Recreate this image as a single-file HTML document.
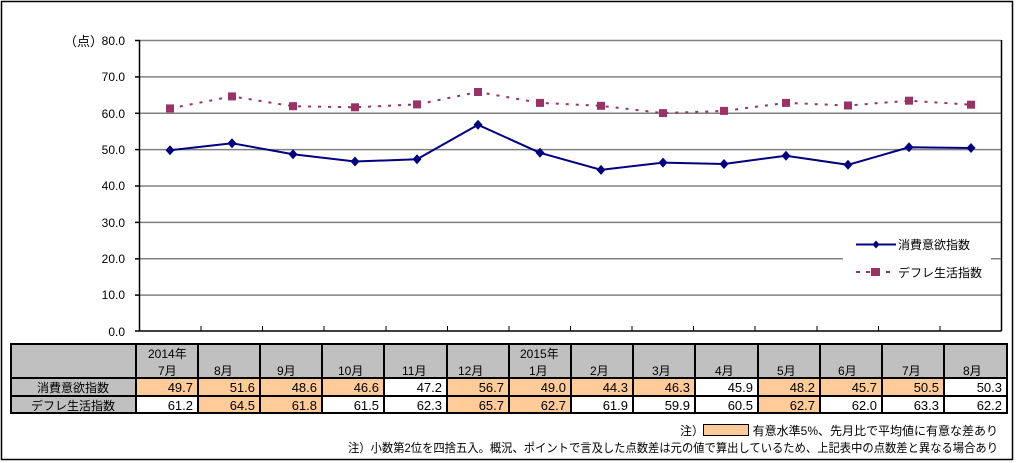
<!DOCTYPE html>
<html><head><meta charset="utf-8"><style>
html,body{margin:0;padding:0;background:#fff}
svg{display:block;font-family:"Liberation Sans","Noto Sans CJK JP",sans-serif}
</style></head><body>
<svg width="1019" height="463" viewBox="0 0 1019 463" xmlns="http://www.w3.org/2000/svg">
<rect x="1.5" y="1.5" width="1011" height="458" fill="#fff" stroke="#000" stroke-width="1.5"/>
<g stroke="#808080" stroke-width="1.5">
<line x1="139" y1="40.5" x2="1001" y2="40.5"/>
<line x1="139" y1="76.9" x2="1001" y2="76.9"/>
<line x1="139" y1="113.3" x2="1001" y2="113.3"/>
<line x1="139" y1="149.6" x2="1001" y2="149.6"/>
<line x1="139" y1="186" x2="1001" y2="186"/>
<line x1="139" y1="222.4" x2="1001" y2="222.4"/>
<line x1="139" y1="258.8" x2="1001" y2="258.8"/>
<line x1="139" y1="295.1" x2="1001" y2="295.1"/>
</g>
<g stroke="#000" stroke-width="1.5" fill="none">
<line x1="139.5" y1="40" x2="139.5" y2="331"/>
<line x1="1001.5" y1="40" x2="1001.5" y2="331"/>
<line x1="135" y1="331" x2="1001.5" y2="331"/>
<line x1="135" y1="40.5" x2="139.5" y2="40.5"/>
<line x1="135" y1="76.9" x2="139.5" y2="76.9"/>
<line x1="135" y1="113.3" x2="139.5" y2="113.3"/>
<line x1="135" y1="149.6" x2="139.5" y2="149.6"/>
<line x1="135" y1="186" x2="139.5" y2="186"/>
<line x1="135" y1="222.4" x2="139.5" y2="222.4"/>
<line x1="135" y1="258.8" x2="139.5" y2="258.8"/>
<line x1="135" y1="295.1" x2="139.5" y2="295.1"/>
</g>
<g stroke="#000" stroke-width="1">
<line x1="201" y1="331" x2="201" y2="326"/><line x1="262.5" y1="331" x2="262.5" y2="326"/><line x1="324" y1="331" x2="324" y2="326"/><line x1="386" y1="331" x2="386" y2="326"/><line x1="447.5" y1="331" x2="447.5" y2="326"/><line x1="509" y1="331" x2="509" y2="326"/><line x1="570.5" y1="331" x2="570.5" y2="326"/><line x1="632" y1="331" x2="632" y2="326"/><line x1="693.5" y1="331" x2="693.5" y2="326"/><line x1="755" y1="331" x2="755" y2="326"/><line x1="817" y1="331" x2="817" y2="326"/><line x1="878.5" y1="331" x2="878.5" y2="326"/><line x1="940" y1="331" x2="940" y2="326"/>
</g>
<g font-size="12" text-anchor="end" fill="#000">
<text x="125" y="45">80.0</text><text x="125" y="81">70.0</text><text x="125" y="118">60.0</text><text x="125" y="154">50.0</text><text x="125" y="190">40.0</text><text x="125" y="227">30.0</text><text x="125" y="263">20.0</text><text x="125" y="299">10.0</text><text x="125" y="336">0.0</text>
</g>
<text x="64" y="46" font-size="13">（点）</text>
<rect x="843" y="228" width="148" height="62" fill="#fff"/>
<polyline fill="none" stroke="#993366" stroke-width="2" stroke-dasharray="3,7" points="170,108.4 232,96.4 293,106.2 355,107.3 417,104.4 478,92 540,102.9 601,105.8 663,113.1 724,110.9 786,102.9 848,105.5 909,100.7 971,104.7"/>
<g fill="#993366">
<rect x="166" y="104.4" width="8" height="8"/><rect x="228" y="92.4" width="8" height="8"/><rect x="289" y="102.2" width="8" height="8"/><rect x="351" y="103.3" width="8" height="8"/><rect x="413" y="100.4" width="8" height="8"/><rect x="474" y="88" width="8" height="8"/><rect x="536" y="98.9" width="8" height="8"/><rect x="597" y="101.8" width="8" height="8"/><rect x="659" y="109.1" width="8" height="8"/><rect x="720" y="106.9" width="8" height="8"/><rect x="782" y="98.9" width="8" height="8"/><rect x="844" y="101.5" width="8" height="8"/><rect x="905" y="96.7" width="8" height="8"/><rect x="967" y="100.7" width="8" height="8"/>
</g>
<polyline fill="none" stroke="#000080" stroke-width="2" points="170,150.2 232,143.3 293,154.2 355,161.5 417,159.3 478,124.8 540,152.8 601,169.9 663,162.6 724,164 786,155.7 848,164.8 909,147.3 971,148"/>
<g fill="#000080">
<path d="M170 145.2l4.5 5-4.5 5-4.5-5z"/><path d="M232 138.3l4.5 5-4.5 5-4.5-5z"/><path d="M293 149.2l4.5 5-4.5 5-4.5-5z"/><path d="M355 156.5l4.5 5-4.5 5-4.5-5z"/><path d="M417 154.3l4.5 5-4.5 5-4.5-5z"/><path d="M478 119.8l4.5 5-4.5 5-4.5-5z"/><path d="M540 147.8l4.5 5-4.5 5-4.5-5z"/><path d="M601 164.9l4.5 5-4.5 5-4.5-5z"/><path d="M663 157.6l4.5 5-4.5 5-4.5-5z"/><path d="M724 159l4.5 5-4.5 5-4.5-5z"/><path d="M786 150.7l4.5 5-4.5 5-4.5-5z"/><path d="M848 159.8l4.5 5-4.5 5-4.5-5z"/><path d="M909 142.3l4.5 5-4.5 5-4.5-5z"/><path d="M971 143l4.5 5-4.5 5-4.5-5z"/>
</g>
<line x1="856" y1="244.5" x2="896" y2="244.5" stroke="#000080" stroke-width="2"/>
<path d="M876 240.5l3.5 4-3.5 4-3.5-4z" fill="#000080"/>
<text x="898" y="249" font-size="12">消費意欲指数</text>
<line x1="856" y1="272" x2="896" y2="272" stroke="#993366" stroke-width="2" stroke-dasharray="4,6"/>
<rect x="871" y="268" width="9" height="8" fill="#993366"/>
<text x="898" y="277" font-size="12">デフレ生活指数</text>
<g fill="#c0c0c0">
<rect x="11" y="344" width="996" height="70"/>
</g>
<g fill="#ffcc99">
<rect x="136" y="378" width="62" height="18"/><rect x="198" y="378" width="62" height="18"/><rect x="260" y="378" width="62" height="18"/><rect x="322" y="378" width="62" height="18"/><rect x="447" y="378" width="62" height="18"/><rect x="509" y="378" width="62" height="18"/><rect x="571" y="378" width="62" height="18"/><rect x="633" y="378" width="62" height="18"/><rect x="758" y="378" width="62" height="18"/><rect x="820" y="378" width="62" height="18"/><rect x="882" y="378" width="62" height="18"/>
<rect x="198" y="396" width="62" height="18"/><rect x="260" y="396" width="62" height="18"/><rect x="447" y="396" width="62" height="18"/><rect x="509" y="396" width="62" height="18"/><rect x="758" y="396" width="62" height="18"/>
</g>
<g fill="#fff">
<rect x="384" y="378" width="63" height="18"/><rect x="695" y="378" width="63" height="18"/><rect x="944" y="378" width="63" height="18"/>
<rect x="136" y="396" width="62" height="18"/><rect x="322" y="396" width="62" height="18"/><rect x="384" y="396" width="63" height="18"/><rect x="571" y="396" width="62" height="18"/><rect x="633" y="396" width="62" height="18"/><rect x="695" y="396" width="63" height="18"/><rect x="820" y="396" width="62" height="18"/><rect x="882" y="396" width="62" height="18"/><rect x="944" y="396" width="63" height="18"/>
</g>
<g stroke="#000" stroke-width="2" fill="none">
<rect x="11" y="344" width="996" height="69"/>
<line x1="11" y1="378" x2="1007" y2="378"/><line x1="11" y1="396" x2="1007" y2="396"/>
<line x1="136" y1="344" x2="136" y2="413"/><line x1="198" y1="344" x2="198" y2="413"/><line x1="260" y1="344" x2="260" y2="413"/><line x1="322" y1="344" x2="322" y2="413"/><line x1="384" y1="344" x2="384" y2="413"/><line x1="447" y1="344" x2="447" y2="413"/><line x1="509" y1="344" x2="509" y2="413"/><line x1="571" y1="344" x2="571" y2="413"/><line x1="633" y1="344" x2="633" y2="413"/><line x1="695" y1="344" x2="695" y2="413"/><line x1="758" y1="344" x2="758" y2="413"/><line x1="820" y1="344" x2="820" y2="413"/><line x1="882" y1="344" x2="882" y2="413"/><line x1="944" y1="344" x2="944" y2="413"/>
</g>
<g font-size="12" fill="#000">
<text x="148" y="358">2014年</text><text x="520" y="358">2015年</text>
<text x="158" y="375">7月</text><text x="214" y="375">8月</text><text x="277" y="375">9月</text><text x="338" y="375">10月</text><text x="402" y="375">11月</text><text x="458" y="375">12月</text><text x="529" y="375">1月</text><text x="590" y="375">2月</text><text x="652" y="375">3月</text><text x="715" y="375">4月</text><text x="777" y="375">5月</text><text x="838" y="375">6月</text><text x="902" y="375">7月</text><text x="963" y="375">8月</text>
<text x="73" y="392" text-anchor="middle">消費意欲指数</text>
<text x="73" y="410" text-anchor="middle">デフレ生活指数</text>
</g>
<g font-size="13" fill="#000" text-anchor="end">
<text x="193" y="392">49.7</text><text x="255" y="392">51.6</text><text x="317" y="392">48.6</text><text x="379" y="392">46.6</text><text x="442" y="392">47.2</text><text x="504" y="392">56.7</text><text x="566" y="392">49.0</text><text x="628" y="392">44.3</text><text x="690" y="392">46.3</text><text x="753" y="392">45.9</text><text x="815" y="392">48.2</text><text x="877" y="392">45.7</text><text x="939" y="392">50.5</text><text x="1002" y="392">50.3</text>
<text x="193" y="410">61.2</text><text x="255" y="410">64.5</text><text x="317" y="410">61.8</text><text x="379" y="410">61.5</text><text x="442" y="410">62.3</text><text x="504" y="410">65.7</text><text x="566" y="410">62.7</text><text x="628" y="410">61.9</text><text x="690" y="410">59.9</text><text x="753" y="410">60.5</text><text x="815" y="410">62.7</text><text x="877" y="410">62.0</text><text x="939" y="410">63.3</text><text x="1002" y="410">62.2</text>
</g>
<rect x="703.5" y="424.5" width="45" height="11" fill="#ffcc99" stroke="#000" stroke-width="1"/>
<text x="680" y="435" font-size="12">注）</text>
<text x="998" y="435" font-size="12" text-anchor="end">有意水準5%、先月比で平均値に有意な差あり</text>
<text x="998" y="452" font-size="12" text-anchor="end" textLength="650" lengthAdjust="spacingAndGlyphs">注）小数第2位を四捨五入。概況、ポイントで言及した点数差は元の値で算出しているため、上記表中の点数差と異なる場合あり</text>
</svg>
</body></html>
